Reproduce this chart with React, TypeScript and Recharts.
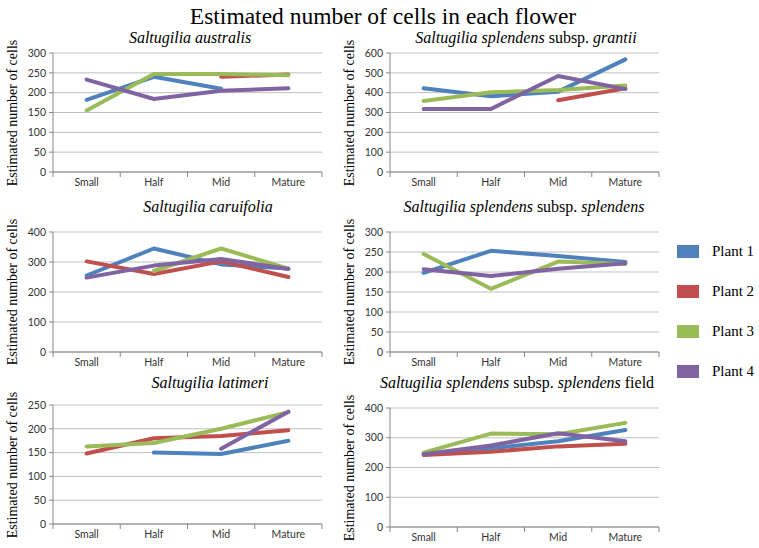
import React from "react";
import { CartesianGrid, Line, LineChart, XAxis, YAxis } from "recharts";

const STAGES = ["Small", "Half", "Mid", "Mature"];
const PLANTS = ["Plant 1", "Plant 2", "Plant 3", "Plant 4"];
const COLORS = ["#4f81bd", "#c0504d", "#9bbb59", "#8064a2"];

const australis1 = [182, 240, 210, null];
const australis2 = [null, null, 240, 246];
const australis3 = [155, 247, 247, 244];
const australis4 = [233, 184, 205, 211];

const grantii1 = [422, 382, 405, 568];
const grantii2 = [null, null, 362, 422];
const grantii3 = [358, 402, 413, 436];
const grantii4 = [318, 318, 484, 418];

const caruifolia1 = [255, 345, 292, 278];
const caruifolia2 = [302, 260, 302, 250];
const caruifolia3 = [null, 270, 345, 278];
const caruifolia4 = [248, 288, 310, 277];

const splendens1 = [198, 253, 240, 225];
const splendens2 = [null, null, null, null];
const splendens3 = [245, 158, 226, 220];
const splendens4 = [207, 190, 208, 222];

const latimeri1 = [null, 150, 147, 175];
const latimeri2 = [148, 180, 185, 197];
const latimeri3 = [163, 170, 200, 235];
const latimeri4 = [null, null, 158, 236];

const field1 = [244, 265, 288, 326];
const field2 = [242, 253, 271, 280];
const field3 = [250, 314, 312, 350];
const field4 = [245, 274, 315, 288];

const build = (series: (number | null)[][]) =>
  STAGES.map((stage, i) => {
    const row: Record<string, string | number | null> = { stage };
    series.forEach((s, k) => (row[PLANTS[k]] = s[i]));
    return row;
  });

const SERIF = "'Liberation Serif', 'Times New Roman', serif";
const SANS = "Lato, 'Open Sans', sans-serif";

type Panel = {
  title: React.ReactNode;
  data: ReturnType<typeof build>;
  ticks: number[];
  left: number;
  plotTop: number;
  plotBottom: number;
  titleX: number;
  titleY: number;
};

const LEFT_W = 330;
const RIGHT_W = 327;

const panels: Panel[] = [
  {
    title: <i>Saltugilia australis</i>,
    data: build([australis1, australis2, australis3, australis4]),
    ticks: [0, 50, 100, 150, 200, 250, 300],
    left: 0, plotTop: 53, plotBottom: 172, titleX: 190, titleY: 38,
  },
  {
    title: <><i>Saltugilia splendens</i> subsp. <i>grantii</i></>,
    data: build([grantii1, grantii2, grantii3, grantii4]),
    ticks: [0, 100, 200, 300, 400, 500, 600],
    left: 340, plotTop: 53, plotBottom: 172, titleX: 526, titleY: 38,
  },
  {
    title: <i>Saltugilia caruifolia</i>,
    data: build([caruifolia1, caruifolia2, caruifolia3, caruifolia4]),
    ticks: [0, 100, 200, 300, 400],
    left: 0, plotTop: 232, plotBottom: 352, titleX: 208, titleY: 207,
  },
  {
    title: <><i>Saltugilia splendens</i> subsp. <i>splendens</i></>,
    data: build([splendens1, splendens2, splendens3, splendens4]),
    ticks: [0, 50, 100, 150, 200, 250, 300],
    left: 340, plotTop: 232, plotBottom: 352, titleX: 524, titleY: 207,
  },
  {
    title: <i>Saltugilia latimeri</i>,
    data: build([latimeri1, latimeri2, latimeri3, latimeri4]),
    ticks: [0, 50, 100, 150, 200, 250],
    left: 0, plotTop: 405, plotBottom: 524, titleX: 210, titleY: 383,
  },
  {
    title: <><i>Saltugilia splendens</i> subsp. <i>splendens</i> field</>,
    data: build([field1, field2, field3, field4]),
    ticks: [0, 100, 200, 300, 400],
    left: 340, plotTop: 408, plotBottom: 527, titleX: 517, titleY: 383,
  },
];

function CatTick(props: any) {
  const { x, y, payload, index, band } = props;
  return (
    <g>
      <line x1={x - band / 2} x2={x - band / 2} y1={y} y2={y + 5} stroke="#868686" />
      {index === STAGES.length - 1 && (
        <line x1={x + band / 2} x2={x + band / 2} y1={y} y2={y + 5} stroke="#868686" />
      )}
      <text x={x} y={y + 14} textAnchor="middle" fontSize={10.5} fontFamily={SANS} fill="#333">
        {payload.value}
      </text>
    </g>
  );
}

function SmallChart({ p }: { p: Panel }) {
  const isLeft = p.left === 0;
  const width = isLeft ? LEFT_W : RIGHT_W;
  const marginLeft = isLeft ? 23 : 20;
  const yW = 30;
  const marginRight = 8;
  const band = (width - marginLeft - yW - marginRight) / STAGES.length;
  const top = p.plotTop - 20;
  const height = 20 + (p.plotBottom - p.plotTop) + 28;
  const max = p.ticks[p.ticks.length - 1];
  return (
    <>
      <div
        style={{
          position: "absolute",
          left: p.titleX - 200,
          width: 400,
          top: p.titleY - 10,
          textAlign: "center",
          fontFamily: SERIF,
          fontSize: 16,
          lineHeight: "20px",
          whiteSpace: "nowrap",
        }}
      >
        {p.title}
      </div>
      <div
        style={{
          position: "absolute",
          left: p.left + (isLeft ? 13 : 10) - 100,
          top: (p.plotTop + p.plotBottom) / 2 - 9,
          width: 200,
          textAlign: "center",
          transform: "rotate(-90deg)",
          fontFamily: SERIF,
          fontSize: 14,
          lineHeight: "18px",
          whiteSpace: "nowrap",
        }}
      >
        Estimated number of cells
      </div>
      <div style={{ position: "absolute", left: p.left, top }}>
        <LineChart
          width={width}
          height={height}
          data={p.data}
          margin={{ top: 20, right: marginRight, left: marginLeft, bottom: 6 }}
        >
          <CartesianGrid vertical={false} stroke="#bfbfbf" />
          <XAxis
            dataKey="stage"
            scale="band"
            height={22}
            tickLine={false}
            tickSize={0}
            tickMargin={0}
            axisLine={{ stroke: "#868686" }}
            interval={0}
            tick={(t: any) => <CatTick {...t} band={band} />}
          />
          <YAxis
            width={yW}
            domain={[0, max]}
            ticks={p.ticks}
            interval={0}
            tickSize={4}
            tickMargin={3}
            tickLine={{ stroke: "#868686" }}
            axisLine={{ stroke: "#868686" }}
            tick={{ fontSize: 10.5, fontFamily: SANS, fill: "#333" }}
          />
          {PLANTS.map((name, k) => (
            <Line
              key={name}
              dataKey={name}
              stroke={COLORS[k]}
              strokeWidth={4}
              strokeLinecap="round"
              strokeLinejoin="round"
              dot={false}
              activeDot={false}
              isAnimationActive={false}
            />
          ))}
        </LineChart>
      </div>
    </>
  );
}

export default function App() {
  return (
    <div
      style={{
        position: "absolute",
        left: 0,
        top: 0,
        width: 759,
        height: 548,
        background: "#fff",
        overflow: "hidden",
      }}
    >
      <div
        style={{
          position: "absolute",
          left: 0,
          width: 766,
          top: 2,
          textAlign: "center",
          fontFamily: SERIF,
          fontSize: 23.5,
          lineHeight: "28px",
        }}
      >
        Estimated number of cells in each flower
      </div>
      {panels.map((p, i) => (
        <SmallChart key={i} p={p} />
      ))}
      {PLANTS.map((name, k) => (
        <div
          key={name}
          style={{
            position: "absolute",
            left: 677,
            top: 251 + k * 40 - 11,
            height: 22,
            display: "flex",
            alignItems: "center",
            fontFamily: SERIF,
            fontSize: 15,
            whiteSpace: "nowrap",
          }}
        >
          <span style={{ display: "inline-block", width: 22, height: 13, background: COLORS[k], marginRight: 13, flexShrink: 0 }} />
          {name}
        </div>
      ))}
    </div>
  );
}
